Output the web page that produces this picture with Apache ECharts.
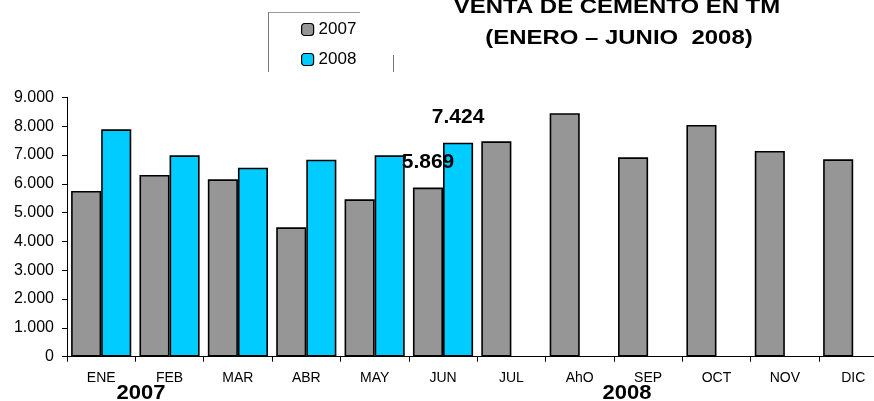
<!DOCTYPE html>
<html><head><meta charset="utf-8">
<script src="https://cdn.jsdelivr.net/npm/echarts@6/dist/echarts.min.js"></script>
<style>html,body{margin:0;padding:0;background:#fff;overflow:hidden;width:874px;height:401px}#c{width:890px;height:401px}</style>
</head><body><div id="c"></div>
<script>
var categories = ['ENE','FEB','MAR','ABR','MAY','JUN','JUL','AhO','SEP','OCT','NOV','DIC'];
var seriesNames = ['2007','2008'];
var values2007 = [5750, 6305, 6155, 4490, 5460, 5869, 7474, 8446, 6919, 8040, 7138, 6849];
var values2008 = [7890, 6988, 6558, 6836, 6988, 7424, null, null, null, null, null, null];
var yTicks = [0,1000,2000,3000,4000,5000,6000,7000,8000,9000];
var titleLines = ['VENTA DE CEMENTO EN TM', '(ENERO \u2013 JUNIO  2008)'];
var yearLabels = ['2007', '2008'];
var labeledIndex = 5;

function fmt(v){ return String(v).replace(/\B(?=(\d{3})+(?!\d))/g, '.'); }
var font = '"Liberation Sans", Arial, sans-serif';
var chart = echarts.init(document.getElementById('c'));
function lbl(show){
  return { show: show, position: 'top', distance: 15, color: '#000', fontSize: 21, fontWeight: 'bold', fontFamily: font,
           formatter: function(p){ return fmt(p.value); } };
}
function txt(t, x, y, size, sx){
  return { type: 'text', x: x, y: y, scaleX: sx, z: 10,
    style: { text: t, x: 0, y: 0, textAlign: 'center', textVerticalAlign: 'middle', fill: '#000', font: 'bold ' + size + 'px ' + font } };
}
chart.setOption({
  animation: false,
  textStyle: { fontFamily: font },
  grid: { left: 67, top: 97.3, right: 2.6, bottom: 44.3, containLabel: false },
  legend: {
    orient: 'vertical', left: 301, top: 21, padding: 0, itemWidth: 12, itemHeight: 12, itemGap: 13,
    data: seriesNames,
    textStyle: { fontSize: 17, color: '#000', fontFamily: font },
    itemStyle: { borderColor: '#000', borderWidth: 1.2 }
  },
  graphic: [
    { type: 'line', shape: { x1: 268, y1: 12.5, x2: 360, y2: 12.5 }, style: { stroke: '#999', lineWidth: 1 } },
    { type: 'line', shape: { x1: 268.5, y1: 12.5, x2: 268.5, y2: 72 }, style: { stroke: '#777', lineWidth: 1 } },
    { type: 'line', shape: { x1: 393.5, y1: 55, x2: 393.5, y2: 72 }, style: { stroke: '#777', lineWidth: 1 } },
    txt(titleLines[0], 617, 7.5, 21, 1.14),
    txt(titleLines[1], 619, 38, 21, 1.14),
    txt(yearLabels[0], 141, 393, 20, 1.1),
    txt(yearLabels[1], 627, 393, 20, 1.1)
  ],
  xAxis: {
    type: 'category', data: categories,
    axisLine: { lineStyle: { color: '#000', width: 1 } },
    axisTick: { show: true, length: 5, lineStyle: { color: '#000' } },
    axisLabel: { color: '#000', fontSize: 14, margin: 14, fontFamily: font, interval: 0 }
  },
  yAxis: {
    type: 'value', min: 0, max: 9000, interval: 1000,
    axisLine: { show: true, lineStyle: { color: '#000', width: 1 } },
    axisTick: { show: true, length: 5, lineStyle: { color: '#000' } },
    splitLine: { show: false },
    axisLabel: { color: '#000', fontSize: 16, margin: 13, fontFamily: font,
      formatter: function(v){ return yTicks.indexOf(v) >= 0 ? fmt(v) : ''; } }
  },
  series: [
    { name: seriesNames[0], type: 'bar', barGap: '0%', barCategoryGap: '12%',
      itemStyle: { color: '#969696', borderColor: '#000', borderWidth: 1.6 },
      data: values2007.map(function(v,i){ return { value: v, label: lbl(i === labeledIndex) }; }) },
    { name: seriesNames[1], type: 'bar', barGap: '0%', barCategoryGap: '12%',
      itemStyle: { color: '#00CCFF', borderColor: '#000', borderWidth: 1.6 },
      data: values2008.map(function(v,i){ return { value: v, label: lbl(i === labeledIndex) }; }) }
  ]
});
</script></body></html>
